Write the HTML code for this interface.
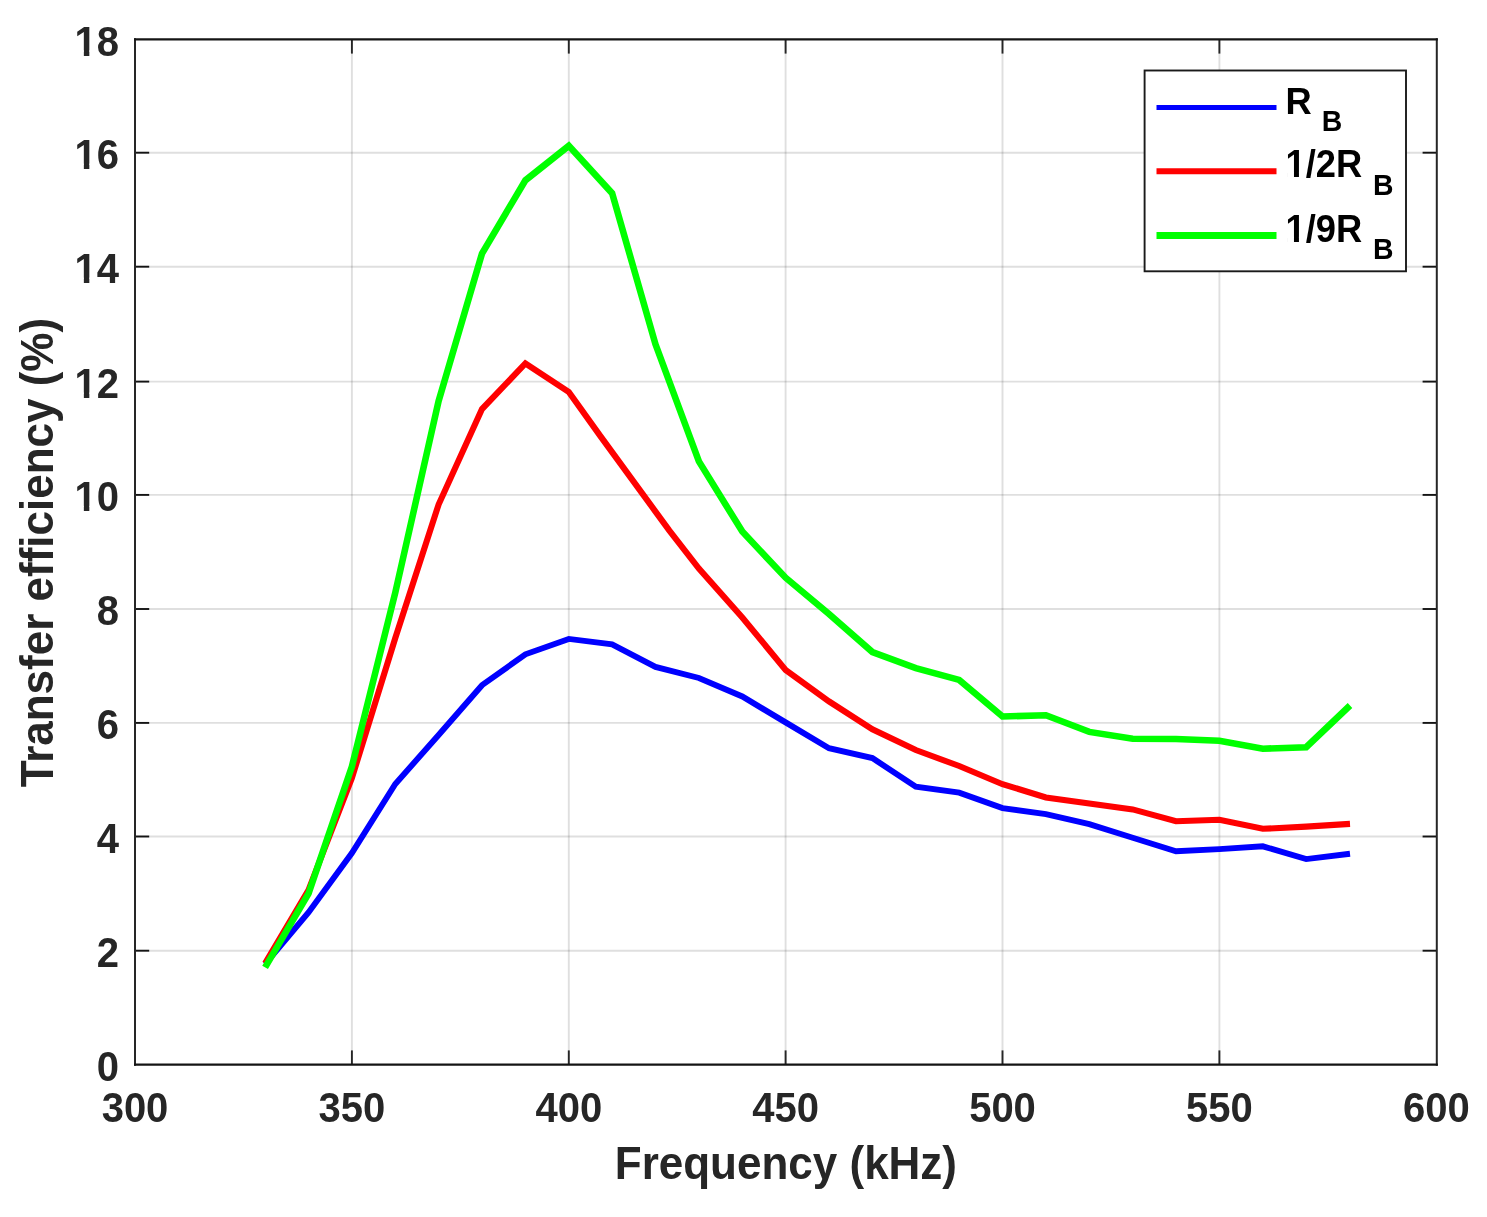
<!DOCTYPE html>
<html lang="en"><head><meta charset="utf-8"><title>Transfer efficiency vs Frequency</title>
<style>
html,body{margin:0;padding:0;background:#fff;}
body{width:1487px;height:1217px;overflow:hidden;}
svg{display:block;}
text{font-family:"Liberation Sans",Arial,Helvetica,sans-serif;font-weight:bold;}
.tk{font-size:40px;fill:#262626;}
.lb{font-size:44px;fill:#262626;}
.lg{font-size:36.3px;fill:#000;}
.sb{font-size:28.4px;fill:#000;}
</style></head><body>
<svg width="1487" height="1217" viewBox="0 0 1487 1217">
<rect x="0" y="0" width="1487" height="1217" fill="#fff"/>

<g stroke="#262626" stroke-opacity="0.15" stroke-width="1.9" fill="none">
<line x1="351.9" y1="39.4" x2="351.9" y2="1064.6"/>
<line x1="568.8" y1="39.4" x2="568.8" y2="1064.6"/>
<line x1="785.6" y1="39.4" x2="785.6" y2="1064.6"/>
<line x1="1002.5" y1="39.4" x2="1002.5" y2="1064.6"/>
<line x1="1219.4" y1="39.4" x2="1219.4" y2="1064.6"/>
<line x1="135.0" y1="950.7" x2="1436.8" y2="950.7"/>
<line x1="135.0" y1="836.5" x2="1436.8" y2="836.5"/>
<line x1="135.0" y1="722.9" x2="1436.8" y2="722.9"/>
<line x1="135.0" y1="609.0" x2="1436.8" y2="609.0"/>
<line x1="135.0" y1="494.9" x2="1436.8" y2="494.9"/>
<line x1="135.0" y1="381.6" x2="1436.8" y2="381.6"/>
<line x1="135.0" y1="266.7" x2="1436.8" y2="266.7"/>
<line x1="135.0" y1="152.7" x2="1436.8" y2="152.7"/>
</g>
<g stroke-width="1.9" fill="none">
<line stroke="#262626" x1="351.9" y1="1064.6" x2="351.9" y2="1050.4"/>
<line stroke="#262626" x1="351.9" y1="39.4" x2="351.9" y2="53.6"/>
<line stroke="#262626" x1="568.8" y1="1064.6" x2="568.8" y2="1050.4"/>
<line stroke="#262626" x1="568.8" y1="39.4" x2="568.8" y2="53.6"/>
<line stroke="#262626" x1="785.6" y1="1064.6" x2="785.6" y2="1050.4"/>
<line stroke="#262626" x1="785.6" y1="39.4" x2="785.6" y2="53.6"/>
<line stroke="#262626" x1="1002.5" y1="1064.6" x2="1002.5" y2="1050.4"/>
<line stroke="#262626" x1="1002.5" y1="39.4" x2="1002.5" y2="53.6"/>
<line stroke="#262626" x1="1219.4" y1="1064.6" x2="1219.4" y2="1050.4"/>
<line stroke="#262626" x1="1219.4" y1="39.4" x2="1219.4" y2="53.6"/>
<line stroke="#141414" x1="135.0" y1="950.7" x2="149.2" y2="950.7"/>
<line stroke="#141414" x1="1436.8" y1="950.7" x2="1422.6" y2="950.7"/>
<line stroke="#141414" x1="135.0" y1="836.5" x2="149.2" y2="836.5"/>
<line stroke="#141414" x1="1436.8" y1="836.5" x2="1422.6" y2="836.5"/>
<line stroke="#141414" x1="135.0" y1="722.9" x2="149.2" y2="722.9"/>
<line stroke="#141414" x1="1436.8" y1="722.9" x2="1422.6" y2="722.9"/>
<line stroke="#141414" x1="135.0" y1="609.0" x2="149.2" y2="609.0"/>
<line stroke="#141414" x1="1436.8" y1="609.0" x2="1422.6" y2="609.0"/>
<line stroke="#141414" x1="135.0" y1="494.9" x2="149.2" y2="494.9"/>
<line stroke="#141414" x1="1436.8" y1="494.9" x2="1422.6" y2="494.9"/>
<line stroke="#141414" x1="135.0" y1="381.6" x2="149.2" y2="381.6"/>
<line stroke="#141414" x1="1436.8" y1="381.6" x2="1422.6" y2="381.6"/>
<line stroke="#141414" x1="135.0" y1="266.7" x2="149.2" y2="266.7"/>
<line stroke="#141414" x1="1436.8" y1="266.7" x2="1422.6" y2="266.7"/>
<line stroke="#141414" x1="135.0" y1="152.7" x2="149.2" y2="152.7"/>
<line stroke="#141414" x1="1436.8" y1="152.7" x2="1422.6" y2="152.7"/>
<line stroke="#262626" stroke-width="2" x1="135.0" y1="38.35" x2="135.0" y2="1065.65"/>
<line stroke="#262626" stroke-width="2" x1="1436.8" y1="38.35" x2="1436.8" y2="1065.65"/>
<line stroke="#141414" stroke-width="2.1" x1="134.0" y1="39.4" x2="1437.8" y2="39.4"/>
<line stroke="#141414" stroke-width="2.2" x1="134.0" y1="1064.6" x2="1437.8" y2="1064.6"/>
</g>
<polyline points="265.1,964.0 308.5,912.4 351.9,853.0 395.3,784.0 438.6,735.0 482.0,685.2 525.4,654.3 568.8,638.9 612.1,644.3 655.5,666.9 698.9,678.0 742.3,696.5 785.6,722.4 829.0,748.2 872.4,758.1 915.8,786.7 959.2,792.7 1002.5,808.1 1045.9,814.1 1089.3,824.1 1132.7,837.7 1176.0,851.2 1219.4,849.1 1262.8,846.3 1306.2,859.1 1350.0,853.7" fill="none" stroke="#0000ff" stroke-width="5.9" stroke-linejoin="miter"/>
<polyline points="265.1,963.4 308.5,890.0 351.9,778.0 395.3,638.0 438.6,504.5 482.0,409.1 525.4,363.5 568.8,392.0 600.4,436.1 655.5,511.6 669.4,530.6 698.9,568.5 742.3,617.6 785.6,669.9 829.0,701.4 872.4,729.3 915.8,750.0 959.2,766.0 1002.5,784.2 1045.9,797.4 1089.3,803.4 1132.7,809.4 1176.0,821.3 1219.4,819.8 1262.8,828.8 1306.2,826.6 1350.0,823.9" fill="none" stroke="#ff0000" stroke-width="6.1" stroke-linejoin="miter"/>
<polyline points="265.1,967.4 308.5,893.5 351.9,766.5 395.3,592.5 438.6,401.0 482.0,253.5 525.4,180.3 568.8,145.8 612.1,193.2 655.5,344.3 698.9,461.4 742.3,531.6 785.6,577.7 829.0,613.9 872.4,652.1 915.8,668.2 959.2,679.9 1002.5,716.5 1045.9,715.2 1089.3,731.9 1132.7,738.8 1176.0,739.0 1219.4,740.8 1262.8,748.7 1306.2,747.2 1350.0,705.5" fill="none" stroke="#00ff00" stroke-width="6.6" stroke-linejoin="miter"/>
<text class="tk" transform="translate(135.0,1121.5) scale(1,1.046)" text-anchor="middle">300</text>
<text class="tk" transform="translate(351.9,1121.5) scale(1,1.046)" text-anchor="middle">350</text>
<text class="tk" transform="translate(568.8,1121.5) scale(1,1.046)" text-anchor="middle">400</text>
<text class="tk" transform="translate(785.6,1121.5) scale(1,1.046)" text-anchor="middle">450</text>
<text class="tk" transform="translate(1002.5,1121.5) scale(1,1.046)" text-anchor="middle">500</text>
<text class="tk" transform="translate(1219.4,1121.5) scale(1,1.046)" text-anchor="middle">550</text>
<text class="tk" transform="translate(1436.3,1121.5) scale(1,1.046)" text-anchor="middle">600</text>
<text class="tk" transform="translate(119.0,1080.9) scale(1,1.046)" text-anchor="end">0</text>
<text class="tk" transform="translate(119.0,967.0) scale(1,1.046)" text-anchor="end">2</text>
<text class="tk" transform="translate(119.0,852.8) scale(1,1.046)" text-anchor="end">4</text>
<text class="tk" transform="translate(119.0,739.2) scale(1,1.046)" text-anchor="end">6</text>
<text class="tk" transform="translate(119.0,625.3) scale(1,1.046)" text-anchor="end">8</text>
<text class="tk" transform="translate(119.0,511.2) scale(1,1.046)" text-anchor="end">10</text>
<rect x="76.31" y="505.86" width="7.54" height="6.14" fill="#fff"/><rect x="89.33" y="505.86" width="6.98" height="6.14" fill="#fff"/>
<text class="tk" transform="translate(119.0,397.9) scale(1,1.046)" text-anchor="end">12</text>
<rect x="76.31" y="392.56" width="7.54" height="6.14" fill="#fff"/><rect x="89.33" y="392.56" width="6.98" height="6.14" fill="#fff"/>
<text class="tk" transform="translate(119.0,283.0) scale(1,1.046)" text-anchor="end">14</text>
<rect x="76.31" y="277.66" width="7.54" height="6.14" fill="#fff"/><rect x="89.33" y="277.66" width="6.98" height="6.14" fill="#fff"/>
<text class="tk" transform="translate(119.0,169.0) scale(1,1.046)" text-anchor="end">16</text>
<rect x="76.31" y="163.66" width="7.54" height="6.14" fill="#fff"/><rect x="89.33" y="163.66" width="6.98" height="6.14" fill="#fff"/>
<text class="tk" transform="translate(119.0,55.7) scale(1,1.046)" text-anchor="end">18</text>
<rect x="76.31" y="50.36" width="7.54" height="6.14" fill="#fff"/><rect x="89.33" y="50.36" width="6.98" height="6.14" fill="#fff"/>
<text class="lb" transform="translate(785.9,1178.5) scale(1,1.03)" text-anchor="middle">Frequency (kHz)</text>
<text class="lb" transform="translate(52.9,552.6) rotate(-90) scale(1,1.03)" text-anchor="middle">Transfer efficiency (%)</text>
<rect x="1144.6" y="70.5" width="261.4" height="200.8" fill="#fff" stroke="#1a1a1a" stroke-width="1.9"/>
<line x1="1156.5" y1="107.6" x2="1276.5" y2="107.6" stroke="#0000ff" stroke-width="5.0"/>
<text class="lg" transform="translate(1285.5,113.7) scale(1,1.0)" text-anchor="start">R</text>
<text class="sb" transform="translate(1321.7,131.2) scale(1,1.05)" text-anchor="start">B</text>
<line x1="1156.5" y1="171.2" x2="1276.5" y2="171.2" stroke="#ff0000" stroke-width="5.9"/>
<text class="lg" transform="translate(1285.5,177.3) scale(1,1.046)" text-anchor="start">1/2R</text>
<text class="sb" transform="translate(1372.9,194.8) scale(1,1.05)" text-anchor="start">B</text>
<rect x="1287.13" y="172.38" width="6.84" height="5.72" fill="#fff"/><rect x="1298.95" y="172.38" width="6.33" height="5.72" fill="#fff"/>
<line x1="1156.5" y1="235.5" x2="1276.5" y2="235.5" stroke="#00ff00" stroke-width="6.8"/>
<text class="lg" transform="translate(1285.5,241.6) scale(1,1.046)" text-anchor="start">1/9R</text>
<text class="sb" transform="translate(1372.9,259.1) scale(1,1.05)" text-anchor="start">B</text>
<rect x="1287.13" y="236.68" width="6.84" height="5.72" fill="#fff"/><rect x="1298.95" y="236.68" width="6.33" height="5.72" fill="#fff"/>
</svg></body></html>
